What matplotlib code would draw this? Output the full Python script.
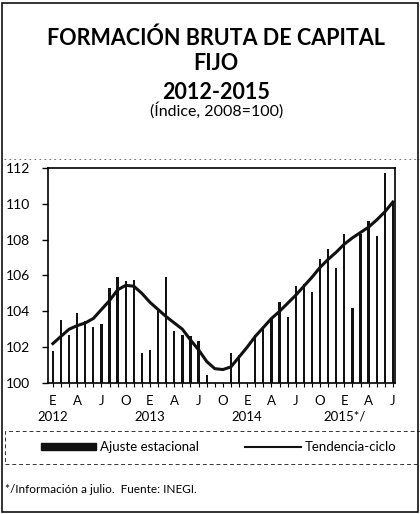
import numpy as np
import matplotlib.pyplot as plt
from matplotlib.lines import Line2D
from matplotlib.patches import Rectangle, Patch
import matplotlib.transforms as mtransforms

plt.rcParams['font.family'] = ['Lato', 'DejaVu Sans']

# datos mensuales ene-2012 a jul-2015
ajuste = [101.8, 103.5, 102.7, 103.9, 103.45, 103.1, 103.3, 105.3, 105.9, 105.7,
          105.75, 101.7, 101.85, 104.1, 105.9, 102.9, 102.7, 102.6, 102.35, 100.45,
          100.0, 100.0, 101.7, 101.55, 100.0, 102.7, 103.1, 103.6, 104.5, 103.7,
          105.4, 105.5, 105.1, 106.9, 107.5, 106.4, 108.3, 104.2, 108.3, 109.05,
          108.2, 111.7, 110.1]
tendencia = [102.2, 102.6, 103.0, 103.2, 103.35, 103.6, 104.1, 104.6, 105.2, 105.45,
             105.4, 105.0, 104.5, 104.1, 103.7, 103.35, 103.0, 102.4, 101.85, 101.2,
             100.8, 100.75, 100.9, 101.45, 102.0, 102.6, 103.1, 103.6, 104.0, 104.45,
             104.9, 105.4, 105.9, 106.45, 106.9, 107.3, 107.75, 108.1, 108.4, 108.7,
             109.1, 109.55, 110.1]
mes_letras = ['E', 'A', 'J', 'O']
anios = ['2012', '2013', '2014', '2015*/']
y_ticks = [100, 102, 104, 106, 108, 110, 112]

x = np.arange(len(ajuste))
base = 100

fig = plt.figure(figsize=(4.2, 5.14), dpi=100)
ax = fig.add_axes([0.1143, 0.2549, 0.826, 0.4183])

ax.bar(x, np.array(ajuste) - base, bottom=base, width=0.28, color='#111111')
ax.plot(x, tendencia, color='#111111', lw=2.2)

ax.set_xlim(-0.6, 42.25)
ax.set_ylim(100, 112)
ax.set_yticks(y_ticks)
ax.set_yticklabels([str(v) for v in y_ticks], fontsize=10)
ax.set_xticks(x[::3])
ax.set_xticklabels([mes_letras[i % 4] for i in range(len(x[::3]))], fontsize=9.5)
ax.set_xticks(x, minor=True)
ax.tick_params(axis='x', which='both', direction='out', length=3, width=0.8, pad=6)
ax.tick_params(axis='y', direction='out', length=4, width=1, pad=9)
for s in ax.spines.values():
    s.set_linewidth(1.2)

trans = mtransforms.blended_transform_factory(ax.transData, ax.transAxes)
for i, a in enumerate(anios):
    ax.text(i * 12, -0.158, a, transform=trans, ha='center', va='center', fontsize=9.5)

# titulo
fig.text(0.515, 0.926, 'FORMACIÓN BRUTA DE CAPITAL', ha='center', va='center',
         fontsize=15.5, fontweight='bold')
fig.text(0.515, 0.877, 'FIJO', ha='center', va='center', fontsize=15.5, fontweight='bold')
fig.text(0.515, 0.821, '2012-2015', ha='center', va='center', fontsize=15.5, fontweight='bold')
fig.text(0.515, 0.785, '(Índice, 2008=100)', ha='center', va='center', fontsize=11.5)

# separador punteado
fig.add_artist(Line2D([0.01, 1.0], [0.69, 0.69], color='#555555', lw=0.6,
                      linestyle=(0, (2, 4))))

# recuadro de leyenda
fig.add_artist(Rectangle((0.012, 0.097), 0.99, 0.065, fill=False, edgecolor='#333333',
                         lw=0.7, linestyle=(0, (4, 3))))
handles = [Patch(facecolor='#111111', edgecolor='#111111', label='Ajuste estacional'),
           Line2D([], [], color='#111111', lw=1.5, label='Tendencia-ciclo')]
fig.legend(handles=handles, loc='center', bbox_to_anchor=(0.52, 0.13), ncol=2,
           frameon=False, fontsize=9.5, handlelength=4.2, handleheight=0.5,
           columnspacing=3.5, handletextpad=0.3)

fig.text(0.012, 0.047, '*/Información a julio.  Fuente: INEGI.', ha='left', va='center',
         fontsize=8.5)

# borde exterior
fig.add_artist(Rectangle((0.005, 0.004), 0.99, 0.99, fill=False, edgecolor='#111111',
                         lw=1.2))

fig.savefig('out.png', dpi=100)
